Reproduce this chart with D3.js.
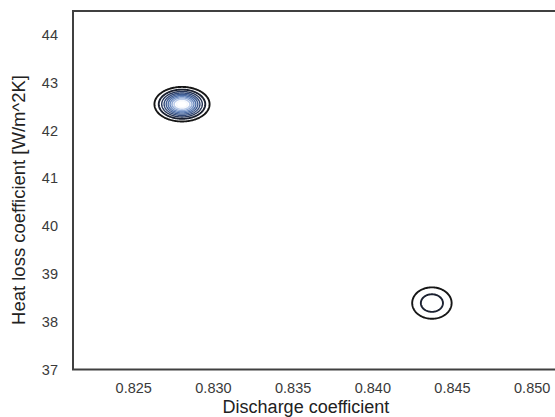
<!DOCTYPE html>
<html>
<head>
<meta charset="utf-8">
<script src="https://cdn.jsdelivr.net/npm/d3@7"></script>
<style>
  html, body { margin: 0; padding: 0; background: #fff; }
  svg { display: block; }
</style>
</head>
<body>
<svg id="chart" width="555" height="417"></svg>
<script>
// ---- data ----
const xTicks = [0.825, 0.830, 0.835, 0.840, 0.845, 0.850];
const yTicks = [37, 38, 39, 40, 41, 42, 43, 44];
const xDomain = [0.82122, 0.85253];
const yDomain = [37, 44.5];
// density components (kernel clusters)
const compX = [0.82806, 0.84374];
const compY = [42.55, 38.39];
const compSx = [0.00079, 0.00087];
const compSy = [0.165, 0.231];
const compPeak = [11, 2.75];
const levels = [1, 2, 3, 4, 5, 6, 7, 8, 9, 10];
const xLabel = "Discharge coefficient";
const yLabel = "Heat loss coefficient [W/m^2K]";

// ---- layout ----
const svg = d3.select("#chart");
const mLeft = 73, mTop = 11, mBottom = 369.5, mRight = 572;
const x = d3.scaleLinear().domain(xDomain).range([mLeft, mRight]);
const y = d3.scaleLinear().domain(yDomain).range([mBottom, mTop]);

// density grid (pixel resolution) evaluated via scales
const W = Math.ceil(mRight - mLeft), H = Math.ceil(mBottom - mTop);
const grid = new Float64Array(W * H);
for (let j = 0; j < H; j++) {
  const yv = y.invert(mTop + j + 0.5);
  for (let i = 0; i < W; i++) {
    const xv = x.invert(mLeft + i + 0.5);
    let v = 0;
    for (let k = 0; k < compX.length; k++) {
      const dx = (xv - compX[k]) / compSx[k];
      const dy = (yv - compY[k]) / compSy[k];
      v += compPeak[k] * Math.exp(-0.5 * (dx * dx + dy * dy));
    }
    grid[j * W + i] = v;
  }
}
const contours = d3.contours().size([W, H]).thresholds(levels)(grid);

const color = d3.scaleLinear()
  .domain([0, 0.12, 0.3, 0.6, 0.85, 1])
  .range(["#161616", "#1b2233", "#2e4472", "#5476b0", "#a6bce2", "#f4f7fc"])
  .interpolate(d3.interpolateRgb);

svg.append("clipPath").attr("id", "clip")
  .append("rect").attr("x", mLeft).attr("y", mTop).attr("width", mRight - mLeft).attr("height", mBottom - mTop);

const path = d3.geoPath(d3.geoIdentity().translate([mLeft, mTop]));
svg.append("g").attr("clip-path", "url(#clip)")
  .selectAll("path")
  .data(contours)
  .join("path")
  .attr("d", path)
  .attr("fill", "none")
  .attr("stroke", (d, i) => color(i / (levels.length - 1)))
  .attr("stroke-width", (d, i) => i < 2 ? 1.9 : 1.4);

// frame (spines)
svg.append("rect")
  .attr("x", mLeft).attr("y", mTop)
  .attr("width", mRight - mLeft).attr("height", mBottom - mTop)
  .attr("fill", "none").attr("stroke", "#404040").attr("stroke-width", 2);

// axes (no tick marks)
const font = "'Liberation Sans', Arial, sans-serif";
const xAxis = svg.append("g").attr("transform", `translate(0,${mBottom})`)
  .call(d3.axisBottom(x).tickValues(xTicks).tickFormat(d3.format(".3f")).tickSize(0).tickPadding(13));
const yAxis = svg.append("g").attr("transform", `translate(${mLeft},0)`)
  .call(d3.axisLeft(y).tickValues(yTicks).tickFormat(d3.format("d")).tickSize(0).tickPadding(15));
[xAxis, yAxis].forEach(a => {
  a.select(".domain").remove();
  a.selectAll("text").attr("font-family", font).attr("font-size", 14.5).attr("fill", "#3a3a3a");
});

svg.append("text")
  .attr("x", 306).attr("y", 413)
  .attr("text-anchor", "middle")
  .attr("font-family", font).attr("font-size", 18).attr("fill", "#222")
  .text(xLabel);
svg.append("text")
  .attr("transform", "translate(25,200) rotate(-90)")
  .attr("text-anchor", "middle")
  .attr("font-family", font).attr("font-size", 18.5).attr("fill", "#222")
  .text(yLabel);
</script>
</body>
</html>
